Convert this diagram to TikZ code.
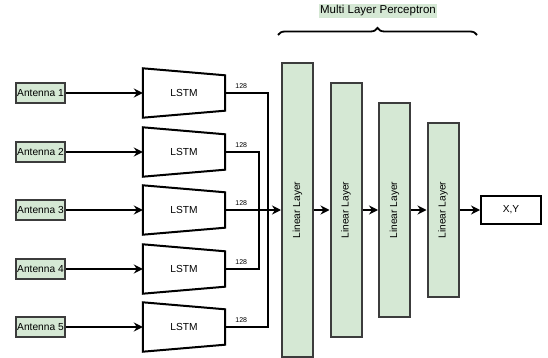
\documentclass[tikz,border=0pt]{standalone}
\usepackage{fontspec}
\setmainfont{Liberation Sans}
\usetikzlibrary{arrows.meta,decorations.pathreplacing}
\definecolor{grfill}{HTML}{D5E8D4}
\definecolor{grline}{HTML}{3C3C3C}

\begin{document}
\begin{tikzpicture}[x=1pt,y=-1pt,line join=miter,
  ant/.style={draw=grline,fill=grfill,line width=1.8pt,minimum width=49pt,minimum height=20pt,inner sep=0pt,font=\fontsize{10.2}{11}\selectfont},
  lstm/.style={minimum width=82pt,minimum height=49pt,inner sep=0pt,font=\fontsize{10.2}{11}\selectfont},
  lstmb/.style={draw=black,line width=2pt},
  lin/.style={draw=grline,fill=grfill,line width=2pt,rotate=90,minimum height=31pt,inner sep=0pt,font=\fontsize{10.2}{11}\selectfont},
  outbox/.style={draw=black,line width=2pt,minimum width=60pt,minimum height=28pt,inner sep=0pt,font=\fontsize{10.2}{11}\selectfont},
  num/.style={inner sep=0pt,font=\fontsize{7}{8}\selectfont},
  conn/.style={draw=black,line width=2pt},
  arr/.style={conn,-{Stealth[length=9pt,width=9pt,inset=3pt]}}]
\useasboundingbox (0,0) rectangle (548,358);

% antennas and LSTM blocks
\foreach \i/\y in {1/93,2/152,3/210,4/269,5/327}{
  \node[ant] (a\i) at (40.5,\y) {Antenna \i};
  \node[lstm] (l\i) at (184,\y) {LSTM};
  \draw[lstmb] (l\i.north west) -- ([yshift=-7pt]l\i.north east) -- ([yshift=7pt]l\i.south east) -- (l\i.south west) -- cycle;
  \draw[arr] (a\i) -- (l\i.west);
  \node[num] (n\i) at ([xshift=16pt,yshift=7pt]l\i.east) {128};
}

% linear layers
\node[lin,minimum width=293pt] (m1) at (297.5,210) {Linear Layer};
\node[lin,minimum width=253pt] (m2) at (346,210) {Linear Layer};
\node[lin,minimum width=214pt] (m3) at (394.5,210) {Linear Layer};
\node[lin,minimum width=174pt] (m4) at (443,210) {Linear Layer};
\node[outbox] (xy) at (511,210) {X,Y};

% merging the LSTM outputs
\coordinate (jo) at (268,210);
\coordinate (ji) at (259,210);
\draw[conn] (l1.east) -| (jo);
\draw[conn] (l5.east) -| (jo);
\draw[conn] (l2.east) -| (ji);
\draw[conn] (l4.east) -| (ji);
\draw[arr] (l3.east) -- (m1);
\draw[arr] (m1) -- (m2);
\draw[arr] (m2) -- (m3);
\draw[arr] (m3) -- (m4);
\draw[arr] (m4) -- (xy);

% brace and title
\node[fill=grfill,inner sep=1.2pt,font=\fontsize{11.5}{12}\selectfont] (mlp) at (378,11) {Multi Layer Perceptron};
\coordinate (bl) at (278,35);
\coordinate (br) at (477,35);
\draw[line width=1.8pt,decorate,decoration={brace,amplitude=7pt}] (bl) -- (br);
\end{tikzpicture}
\end{document}
